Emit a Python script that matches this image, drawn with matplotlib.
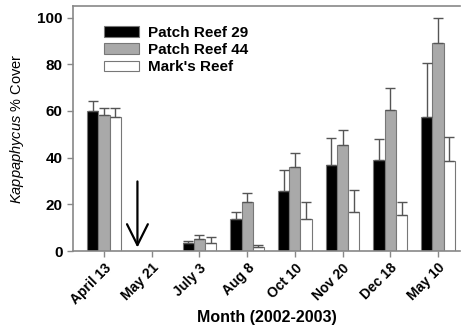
import numpy as np
import matplotlib
matplotlib.use("Agg")
import matplotlib.pyplot as plt

plt.rcParams['font.family'] = ['Liberation Sans', 'DejaVu Sans']
plt.rcParams['mathtext.fontset'] = 'custom'
plt.rcParams['mathtext.it'] = 'Liberation Sans:italic'
plt.rcParams['mathtext.rm'] = 'Liberation Sans'

months = ["April 13", "May 21", "July 3", "Aug 8", "Oct 10", "Nov 20", "Dec 18", "May 10"]
reef29 = [59.8, 0, 3.5, 13.7, 25.7, 37.0, 39.0, 57.5]
reef29_err = [4.6, 0, 0.9, 3.0, 9.1, 11.5, 9.0, 23.2]
reef44 = [58.4, 0, 5.2, 21.0, 36.0, 45.5, 60.5, 89.0]
reef44_err = [2.9, 0, 1.7, 3.8, 6.0, 6.5, 9.5, 11.0]
marks = [57.6, 0, 3.5, 1.7, 13.7, 16.7, 15.5, 38.6]
marks_err = [3.7, 0, 2.5, 0.8, 7.3, 9.3, 5.5, 10.4]

fig = plt.figure(figsize=(4.69, 3.27), dpi=100)
ax = fig.add_axes([0.1557, 0.2324, 0.825, 0.7493])

x = np.arange(len(months))
w = 0.235
series = [(reef29, reef29_err, "black", "Patch Reef 29"),
          (reef44, reef44_err, "#a9a9a9", "Patch Reef 44"),
          (marks, marks_err, "white", "Mark's Reef")]
for i, (vals, errs, col, lab) in enumerate(series):
    xs = x + (i - 1) * w
    vv = np.array(vals, dtype=float)
    ee = np.array(errs, dtype=float)
    keep = vv > 0
    ax.bar(xs[keep], vv[keep], w, color=col, edgecolor="#777777", linewidth=0.8, label=lab)
    ax.errorbar(xs[keep], vv[keep], yerr=[np.zeros(keep.sum()), ee[keep]],
                fmt="none", ecolor="#555555", elinewidth=1, capsize=3.5, capthick=1)

# arrow marking the May 21 (no data) sampling
ax.annotate("", xy=(0.7, 0.3), xytext=(0.7, 31),
            arrowprops=dict(arrowstyle="->,head_length=1.5,head_width=0.75", color="black", lw=1.6))

ax.set_xlim(-0.65, 7.46)
ax.set_ylim(0, 105)
ax.set_yticks([0, 20, 40, 60, 80, 100])
ax.set_xticks(x)
ax.set_xticklabels(months, rotation=45, ha="right", rotation_mode="anchor", fontsize=10, fontweight="bold")
for t in ax.get_yticklabels():
    t.set_fontweight("bold")
    t.set_fontsize(11)
ax.tick_params(axis="both", color="#888888", length=4, width=1)
ax.tick_params(axis="x", pad=3)
ax.spines["right"].set_visible(False)
for s in ["left", "top", "bottom"]:
    ax.spines[s].set_color("#888888")
    ax.spines[s].set_linewidth(1.2)

ax.set_ylabel(r"$\it{Kappaphycus}$ % Cover", fontsize=10.5, labelpad=8)
ax.set_xlabel("Month (2002-2003)", fontsize=11.5, fontweight="bold", labelpad=2)

leg = ax.legend(loc="upper left", bbox_to_anchor=(0.045, 0.975), frameon=False,
                handlelength=2.3, handleheight=0.65, labelspacing=0.2, handletextpad=0.6,
                prop={"weight": "bold", "size": 11})

fig.savefig("out.png", dpi=100)
